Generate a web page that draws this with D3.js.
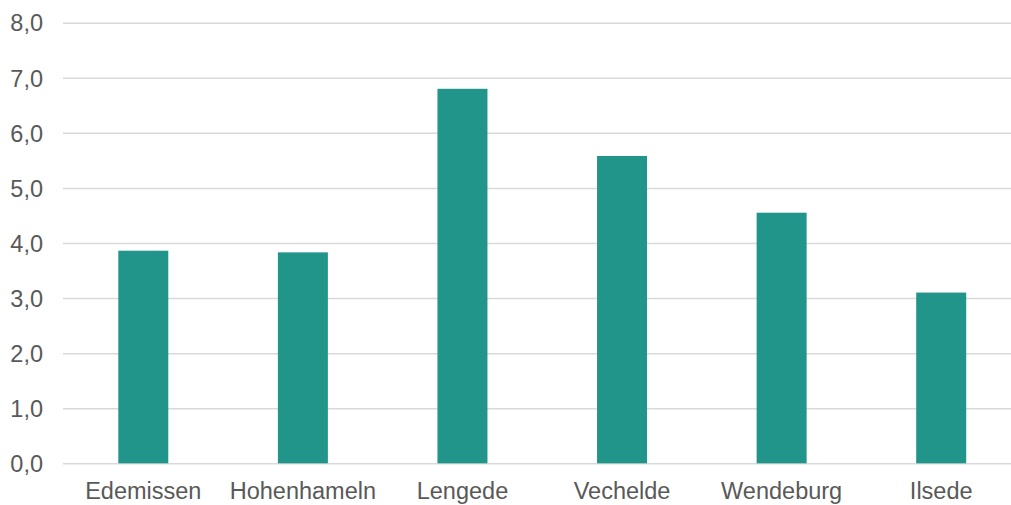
<!DOCTYPE html>
<html>
<head>
<meta charset="utf-8">
<script src="https://cdn.jsdelivr.net/npm/d3@7"></script>
<style>
  html, body { margin: 0; padding: 0; background: #fff; }
  svg text { font-family: "Liberation Sans", Arial, sans-serif; fill: #595959; }
</style>
</head>
<body>
<svg id="chart" width="1011" height="505"></svg>
<script>
const categories = ["Edemissen", "Hohenhameln", "Lengede", "Vechelde", "Wendeburg", "Ilsede"];
const values = [3.86, 3.83, 6.80, 5.58, 4.55, 3.10];
const yTicks = [0, 1, 2, 3, 4, 5, 6, 7, 8];

const svg = d3.select('#chart');
const TEAL = "#21958a", GRID = "#d9d9d9";

const xScale = d3.scaleBand().domain(categories).range([63.5, 1021]).paddingInner(0).paddingOuter(0);
const yScale = d3.scaleLinear().domain([0, 8]).range([463.3, 22.7]);

const fmt = d => d.toFixed(1).replace('.', ',');

// gridlines + y labels
const yAxis = d3.axisLeft(yScale).tickValues(yTicks).tickSize(-(1011 - 63)).tickFormat(fmt);
const yAxisG = svg.append('g').attr('transform', 'translate(63,0)').call(yAxis);
yAxisG.select('.domain').remove();
yAxisG.selectAll('.tick line').attr('stroke', GRID).attr('stroke-width', 1.5);
yAxisG.selectAll('.tick text')
  .attr('x', -20)
  .attr('dy', '0.35em')
  .style('font-size', '23.5px')
  .style('fill', '#595959');

// bars
const barW = 50;
svg.selectAll('rect.bar').data(values)
  .enter().append('rect')
  .attr('class', 'bar')
  .attr('x', (d, i) => xScale(categories[i]) + xScale.bandwidth() / 2 - barW / 2)
  .attr('width', barW)
  .attr('y', d => yScale(d))
  .attr('height', d => yScale(0) - yScale(d))
  .style('fill', TEAL);

// x labels
const xAxis = d3.axisBottom(xScale).tickSize(0).tickPadding(0);
const xAxisG = svg.append('g').attr('transform', 'translate(0,463.3)').call(xAxis);
xAxisG.select('.domain').remove();
xAxisG.selectAll('.tick text')
  .attr('y', 36)
  .attr('dy', 0)
  .style('font-size', '23.5px')
  .style('fill', '#595959');
</script>
</body>
</html>
